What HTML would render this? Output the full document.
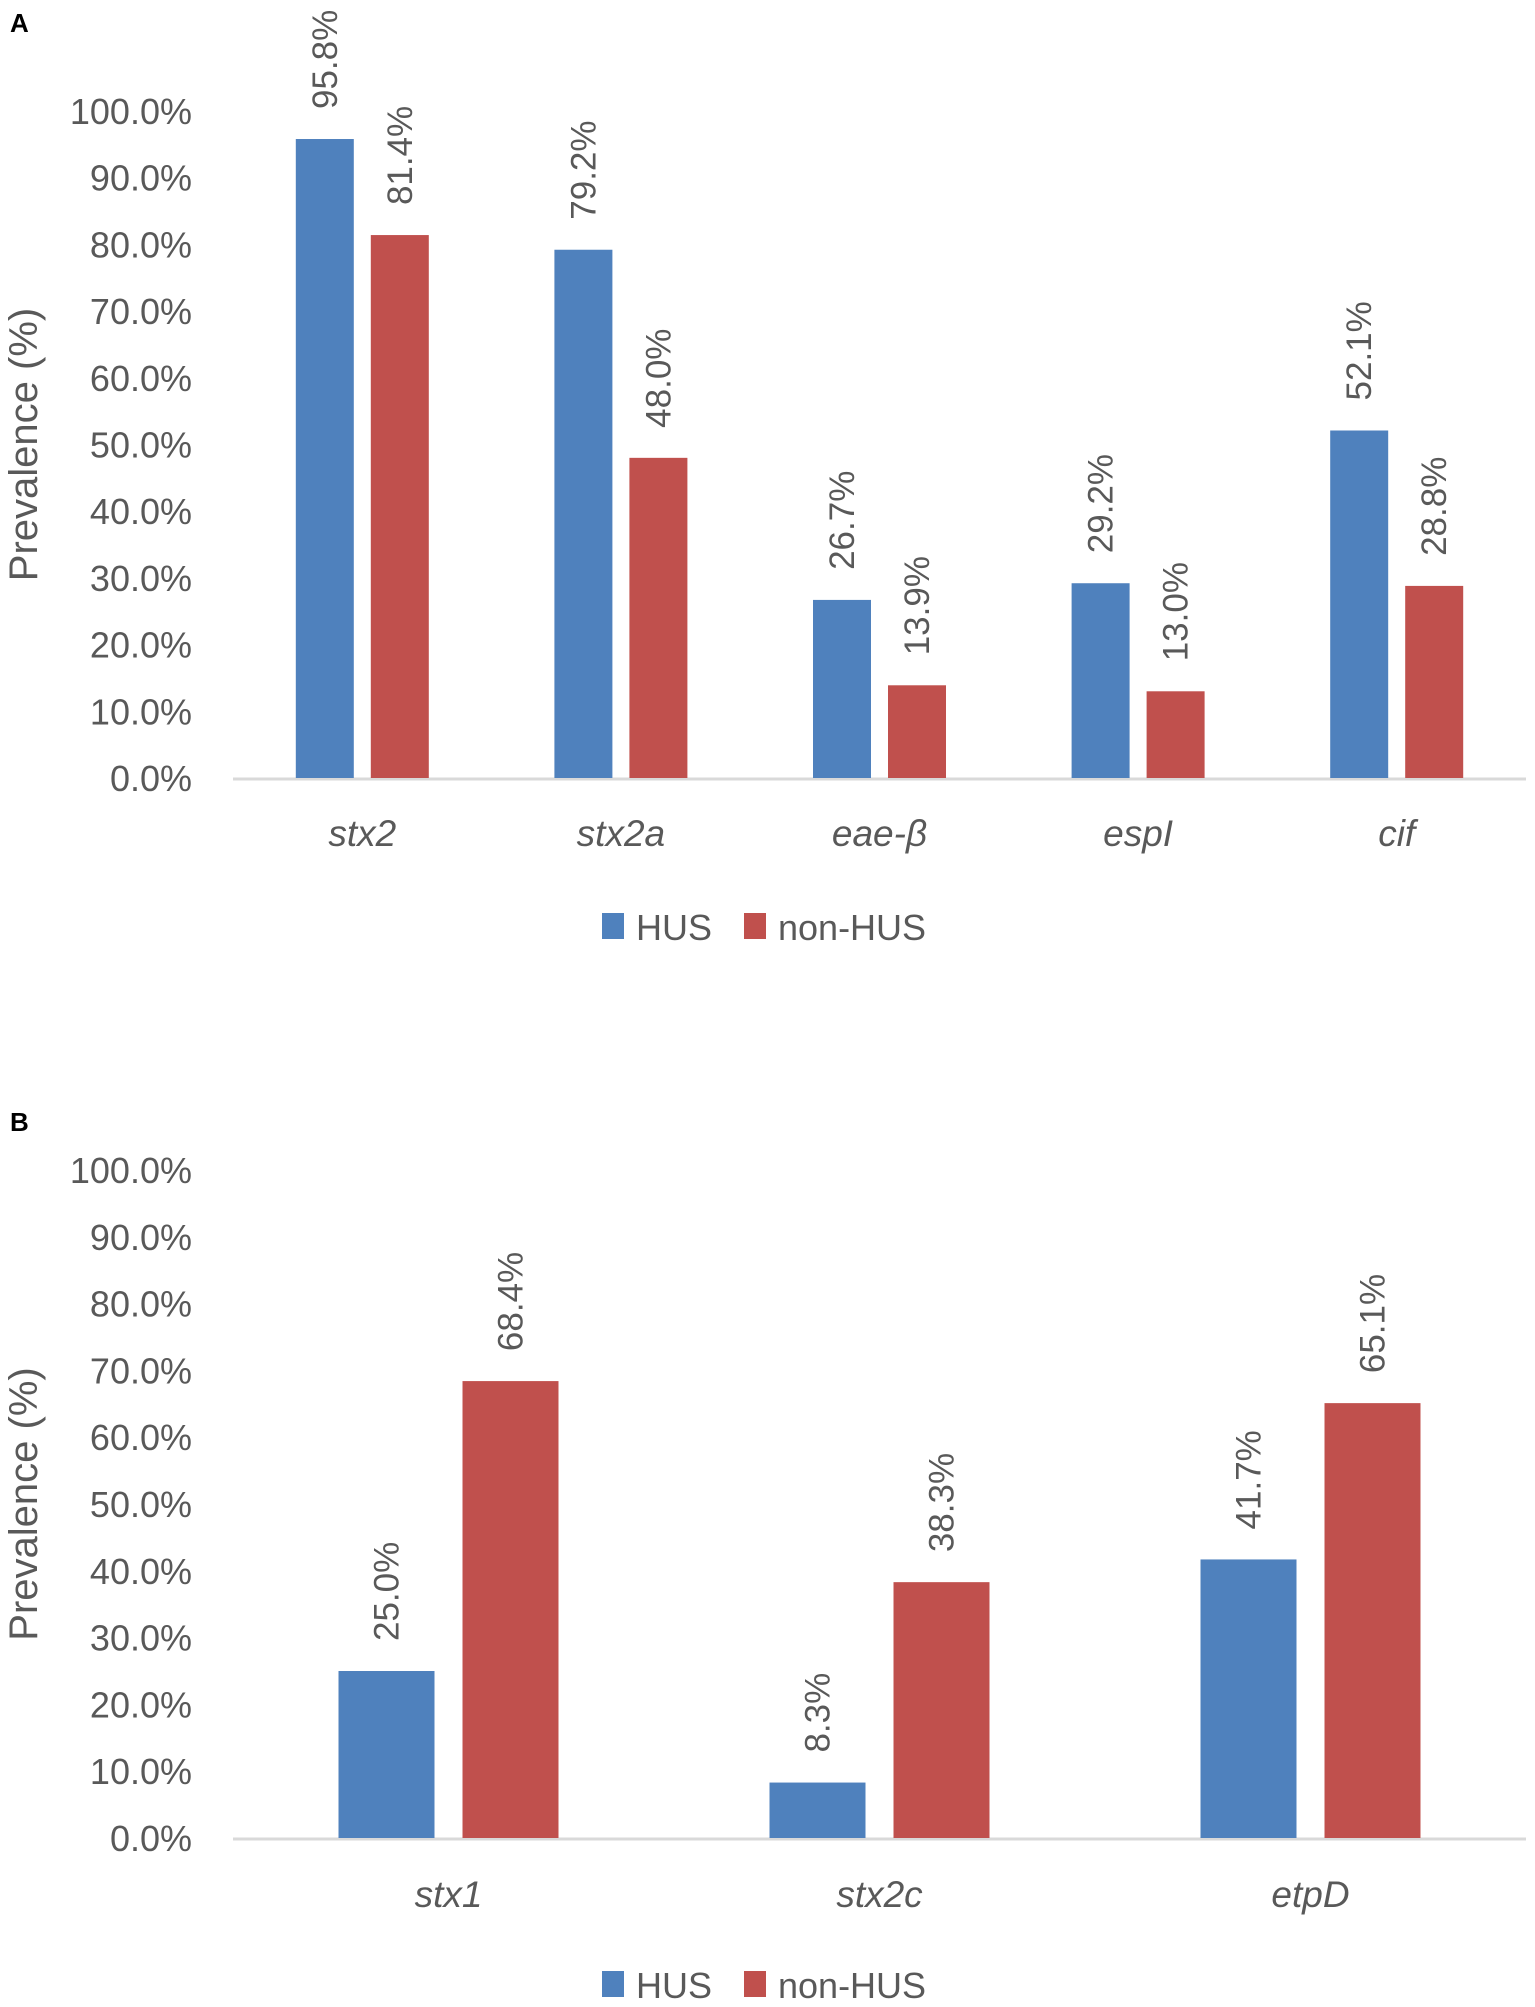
<!DOCTYPE html>
<html><head><meta charset="utf-8"><style>
html,body{margin:0;padding:0;background:#fff;}
svg{display:block;font-family:"Liberation Sans",sans-serif;}
</style></head><body>
<svg id="fig" width="1535" height="2007" viewBox="0 0 1535 2007"></svg>
<script>
const catsA = ["stx2","stx2a","eae-β","espI","cif"];
const husA = [95.8, 79.2, 26.7, 29.2, 52.1];
const nonA = [81.4, 48.0, 13.9, 13.0, 28.8];
const catsB = ["stx1","stx2c","etpD"];
const husB = [25.0, 8.3, 41.7];
const nonB = [68.4, 38.3, 65.1];
const ticks = [0,10,20,30,40,50,60,70,80,90,100];

const NS="http://www.w3.org/2000/svg";
const svg=document.getElementById('fig');
function mk(tag,attrs,parent,text){const e=document.createElementNS(NS,tag);for(const k in attrs)e.setAttribute(k,attrs[k]);if(text!==undefined)e.textContent=text;(parent||svg).appendChild(e);return e;}
const GREY="#595959",BLUE="#4f81bd",RED="#c0504d";

function panel(letter,top,y0,y100,cats,hus,non,barW,gap,catY,legY,name){
  const g=mk('g',{},svg);
  
  
  const x0=233,x1=1526;
  const yS=v=>y0-(y0-y100)*v/100;
  const band=(x1-x0)/cats.length;
  const xC=i=>x0+band*(i+0.5);
  const L=mk('text',{x:10,y:top,'font-size':26,'font-weight':'bold',fill:'#000'},g,letter);
  
  
  ticks.forEach(t=>{
    const tt=mk('text',{x:192,y:yS(t)+13,'font-size':36,fill:GREY,'text-anchor':'end'},g,t.toFixed(1)+'%');
    
    
  });
  const yt=mk('text',{x:0,y:0,'font-size':40,fill:GREY,'text-anchor':'middle',transform:`translate(37,${(y0+y100)/2}) rotate(-90)`},g,'Prevalence (%)');
  
  
  const ax=mk('line',{x1:x0,x2:x1,y1:y0+1,y2:y0+1,stroke:'#d9d9d9','stroke-width':3},g);
  
  
  cats.forEach((c,i)=>{
    const cx=xC(i);
    [[hus[i],BLUE,cx-gap/2-barW,'hus'],[non[i],RED,cx+gap/2,'non-hus']].forEach(([v,col,bx,s])=>{
      const r=mk('rect',{x:bx,y:yS(v),width:barW,height:y0-yS(v),fill:col},g);
      
      
      const tx=bx+barW/2+12, ty=yS(v)-30;
      const lb=mk('text',{x:0,y:0,'font-size':35,fill:GREY,transform:`translate(${tx},${ty}) rotate(-90)`},g,v.toFixed(1)+'%');
      
      
    });
    const ct=mk('text',{x:cx,y:catY+13,'font-size':37,'font-style':'italic',fill:GREY,'text-anchor':'middle'},g,c);
    
    
  });
  const l1=mk('rect',{x:602,y:legY-14,width:22,height:26,fill:BLUE},g);
  
  
  const t1=mk('text',{x:636,y:legY+13,'font-size':36,fill:GREY},g,'HUS');
  
  
  const l2=mk('rect',{x:744,y:legY-14,width:22,height:26,fill:RED},g);
  
  
  const t2=mk('text',{x:778,y:legY+13,'font-size':36,fill:GREY},g,'non-HUS');
  
  
}
panel('A',32,778,111,catsA,husA,nonA,58,17,833,927,'panel-a-chart');
panel('B',1131,1838,1170,catsB,husB,nonB,96,28,1894,1985,'panel-b-chart');
</script>
</body></html>
